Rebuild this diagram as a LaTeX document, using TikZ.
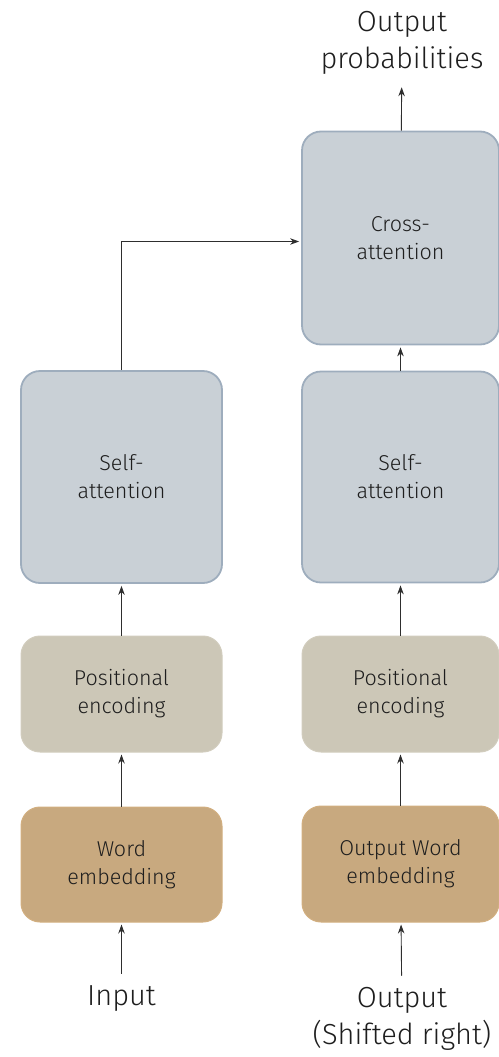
\documentclass[tikz,border=0pt]{standalone}
\usepackage{fontspec}
\setmainfont{Fira Sans Light}
\usetikzlibrary{arrows.meta}

\definecolor{attnFill}{HTML}{C9D0D6}
\definecolor{attnLine}{HTML}{9EADBD}
\definecolor{posFill}{HTML}{CCC7B7}
\definecolor{posLine}{HTML}{D2CDBE}
\definecolor{embFill}{HTML}{C8A97F}
\definecolor{embLine}{HTML}{D2AF80}
\definecolor{ink}{HTML}{1E1E1E}
\definecolor{wire}{HTML}{2E2E2E}

\tikzset{
  block/.style={rounded corners=19pt, inner sep=0pt, align=center, text=ink,
    font=\fontsize{21.5}{28}\selectfont},
  attnbox/.style={block, fill=attnFill, draw=attnLine, line width=1.8pt},
  posbox/.style={block, fill=posFill, draw=posLine, line width=1pt},
  embbox/.style={block, fill=embFill, draw=embLine, line width=1pt},
  biglabel/.style={align=center, text=ink, inner sep=0pt,
    font=\fontsize{29}{37}\selectfont},
  arr/.style={draw=wire, line width=0.9pt, -{Stealth[length=9pt,width=6.5pt]}},
}

\begin{document}
\begin{tikzpicture}[x=1pt, y=-1pt]
\useasboundingbox (0,0) rectangle (498,1057);

% encoder column
\node[attnbox, minimum width=201pt, minimum height=212pt] (encSelf) at (121.5,477) {Self-\\attention};
\node[posbox,  minimum width=201pt, minimum height=116pt] (encPos)  at (121.5,694) {Positional\\encoding};
\node[embbox,  minimum width=201pt, minimum height=115pt] (encEmb)  at (121.5,864.5) {Word\\embedding};
\node[biglabel, anchor=base] (inLbl) at (121.5,1005) {Input};

% decoder column
\node[attnbox, minimum width=197pt, minimum height=213pt] (decCross) at (400.5,238) {Cross-\\attention};
\node[attnbox, minimum width=197pt, minimum height=211pt] (decSelf)  at (400.5,477) {Self-\\attention};
\node[posbox,  minimum width=197pt, minimum height=116pt] (decPos)   at (400.5,694) {Positional\\encoding};
\node[embbox,  minimum width=197pt, minimum height=116pt] (decEmb)   at (400.5,864) {Output Word\\embedding};
\node[biglabel] (outLbl) at (402,1018.5) {Output\\(Shifted right)};
\node[biglabel] (probLbl) at (402,42.5) {Output\\probabilities};

% encoder flow
\draw[arr, shorten <=11pt, shorten >=2pt] (inLbl) -- (encEmb);
\draw[arr, shorten >=2pt] (encEmb) -- (encPos);
\draw[arr, shorten >=2pt] (encPos) -- (encSelf);

% decoder flow
\draw[arr, shorten <=11pt, shorten >=2pt] (outLbl) -- (decEmb);
\draw[arr, shorten >=2pt] (decEmb) -- (decPos);
\draw[arr, shorten >=2pt] (decPos) -- (decSelf);
\draw[arr, shorten >=2pt] (decSelf) -- (decCross);
\draw[arr, shorten >=13pt] (decCross) -- (probLbl);

% encoder output into cross-attention
\draw[arr, shorten >=2pt] (encSelf.north) |- ([yshift=-3.5pt]decCross.west);
\end{tikzpicture}
\end{document}
